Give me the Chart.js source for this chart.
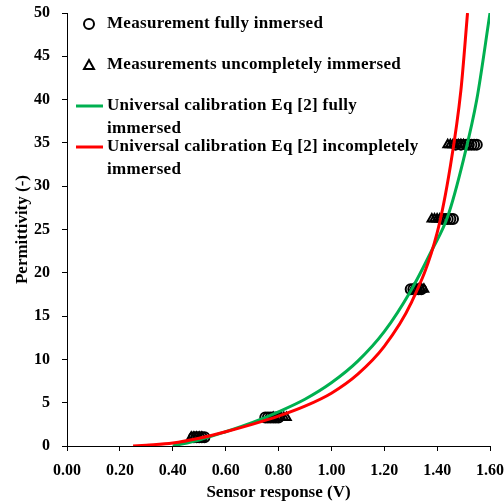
<!DOCTYPE html>
<html>
<head>
<meta charset="utf-8">
<script src="https://cdn.jsdelivr.net/npm/chart.js@4.4.1/dist/chart.umd.min.js"></script>
<style>
  html, body { margin: 0; padding: 0; background: #fff; }
</style>
</head>
<body>
<canvas id="permChart" width="504" height="503"></canvas>
<script>
// Measurements, fully immersed sensor (circles)
const fullV   = [0.48, 0.49, 0.50, 0.51, 0.52,
                 0.75, 0.76, 0.77, 0.78, 0.79, 0.80,
                 1.30, 1.31, 1.32, 1.33, 1.34,
                 1.42, 1.43, 1.44, 1.45, 1.46,
                 1.47, 1.49, 1.51, 1.52, 1.53, 1.54, 1.55];
const fullEps = [1.0, 1.0, 1.0, 1.0, 1.0,
                 3.3, 3.3, 3.3, 3.3, 3.3, 3.3,
                 18.1, 18.1, 18.1, 18.1, 18.1,
                 26.2, 26.2, 26.2, 26.2, 26.2,
                 34.8, 34.8, 34.8, 34.8, 34.8, 34.8, 34.8];

// Measurements, incompletely immersed sensor (triangles)
const partV   = [0.47, 0.48, 0.49, 0.50, 0.51,
                 0.78, 0.80, 0.81, 0.82, 0.83,
                 1.31, 1.32, 1.33, 1.34, 1.35,
                 1.38, 1.39, 1.40, 1.41, 1.42,
                 1.44, 1.45, 1.46, 1.47, 1.48, 1.49, 1.50];
const partEps = [1.0, 1.0, 1.0, 1.0, 1.0,
                 3.3, 3.3, 3.3, 3.3, 3.3,
                 18.1, 18.1, 18.1, 18.1, 18.1,
                 26.2, 26.2, 26.2, 26.2, 26.2,
                 34.8, 34.8, 34.8, 34.8, 34.8, 34.8, 34.8];

// Universal calibration Eq [2], fully immersed
const calFullV   = [0.40, 0.50, 0.60, 0.70, 0.80, 0.90, 1.00, 1.10, 1.20, 1.30, 1.38, 1.44, 1.50, 1.55, 1.60];
const calFullEps = [0.0, 0.7, 1.65, 2.7, 3.95, 5.4, 7.3, 9.8, 13.2, 17.9, 22.6, 26.5, 33.1, 40.0, 50.0];

// Universal calibration Eq [2], incompletely immersed
const calPartV   = [0.25, 0.30, 0.40, 0.50, 0.60, 0.70, 0.80, 0.90, 1.00, 1.10, 1.20, 1.30, 1.40, 1.45, 1.49, 1.515];
const calPartEps = [0.0, 0.1, 0.35, 0.9, 1.65, 2.5, 3.45, 4.6, 6.1, 8.3, 11.5, 16.4, 24.6, 32.3, 41.1, 50.0];

const xTicks = [0, 0.2, 0.4, 0.6, 0.8, 1.0, 1.2, 1.4, 1.6];

const legendLines = [
  ['Measurement fully inmersed'],
  ['Measurements uncompletely immersed'],
  ['Universal calibration Eq [2] fully', 'immersed'],
  ['Universal calibration Eq [2] incompletely', 'immersed']
];

const pts = (xs, ys) => xs.map((x, i) => ({ x: x, y: ys[i] }));

const FONT = '"Liberation Serif", "Times New Roman", serif';
const GREEN = '#00b050';
const RED = '#ff0000';

// legend drawn inside the plot area, top-left
const insideLegend = {
  id: 'insideLegend',
  afterDraw(chart) {
    const ctx = chart.ctx;
    const a = chart.chartArea;
    const markX = a.left + 22;
    const textX = a.left + 40;
    const rowY = [a.top + 11, a.top + 52, a.top + 93, a.top + 134];
    ctx.save();
    ctx.font = 'bold 17px ' + FONT;
    if ('letterSpacing' in ctx) ctx.letterSpacing = '0.3px';
    ctx.fillStyle = '#000';
    ctx.textBaseline = 'middle';
    ctx.textAlign = 'left';
    legendLines.forEach((lines, i) => {
      const y = rowY[i];
      ctx.lineWidth = 2;
      ctx.strokeStyle = '#000';
      if (i === 0) {
        ctx.beginPath();
        ctx.arc(markX, y, 5, 0, Math.PI * 2);
        ctx.stroke();
      } else if (i === 1) {
        ctx.beginPath();
        ctx.moveTo(markX, y - 5);
        ctx.lineTo(markX + 5, y + 4);
        ctx.lineTo(markX - 5, y + 4);
        ctx.closePath();
        ctx.stroke();
      } else {
        ctx.lineWidth = 3;
        ctx.strokeStyle = i === 2 ? GREEN : RED;
        ctx.beginPath();
        ctx.moveTo(a.left + 9, y);
        ctx.lineTo(a.left + 36, y);
        ctx.stroke();
      }
      lines.forEach((t, k) => ctx.fillText(t, textX, y + k * 22.5));
    });
    ctx.restore();
  }
};

new Chart(document.getElementById('permChart'), {
  type: 'scatter',
  data: {
    datasets: [
      {
        label: 'Measurement fully inmersed',
        data: pts(fullV, fullEps),
        pointStyle: 'circle',
        pointRadius: 5,
        borderColor: '#000',
        backgroundColor: 'rgba(0,0,0,0)',
        borderWidth: 2,
        order: 2
      },
      {
        label: 'Measurements uncompletely immersed',
        data: pts(partV, partEps),
        pointStyle: 'triangle',
        pointRadius: 5,
        borderColor: '#000',
        backgroundColor: 'rgba(0,0,0,0)',
        borderWidth: 2,
        order: 3
      },
      {
        label: 'Universal calibration Eq [2] fully immersed',
        data: pts(calFullV, calFullEps),
        showLine: true,
        pointRadius: 0,
        borderColor: GREEN,
        borderWidth: 3,
        cubicInterpolationMode: 'monotone',
        order: 1
      },
      {
        label: 'Universal calibration Eq [2] incompletely immersed',
        data: pts(calPartV, calPartEps),
        showLine: true,
        pointRadius: 0,
        borderColor: RED,
        borderWidth: 3,
        cubicInterpolationMode: 'monotone',
        order: 0
      }
    ]
  },
  options: {
    responsive: false,
    animation: false,
    layout: { padding: { top: 13, right: 14, left: 0, bottom: 0 } },
    plugins: {
      legend: { display: false },
      tooltip: { enabled: false }
    },
    scales: {
      x: {
        type: 'linear',
        min: 0,
        max: 1.6,
        afterBuildTicks: s => { s.ticks = xTicks.map(v => ({ value: v })); },
        afterFit: s => { s.height = 57; s.paddingLeft = 0; s.paddingRight = 0; },
        border: { color: '#000', width: 1 },
        grid: { display: true, drawOnChartArea: false, drawTicks: true, tickLength: 5, color: '#000' },
        ticks: {
          color: '#000',
          padding: 10,
          maxRotation: 0,
          font: { family: FONT, size: 16, weight: 'bold' },
          callback: v => Number(v).toFixed(2)
        },
        title: {
          display: true,
          text: 'Sensor response (V)',
          color: '#000',
          padding: { top: 0, bottom: 0 },
          font: { family: FONT, size: 17, weight: 'bold' }
        }
      },
      y: {
        type: 'linear',
        min: 0,
        max: 50,
        afterFit: s => { s.width = 67; s.paddingTop = 0; s.paddingBottom = 0; },
        border: { color: '#000', width: 1 },
        grid: { display: true, drawOnChartArea: false, drawTicks: true, tickLength: 5, color: '#000' },
        ticks: {
          stepSize: 5,
          color: '#000',
          padding: 12,
          font: { family: FONT, size: 16, weight: 'bold' }
        },
        title: {
          display: true,
          text: 'Permittivity (-)',
          color: '#000',
          padding: { top: 12, bottom: 0 },
          font: { family: FONT, size: 17, weight: 'bold' }
        }
      }
    }
  },
  plugins: [insideLegend]
});
</script>
</body>
</html>
